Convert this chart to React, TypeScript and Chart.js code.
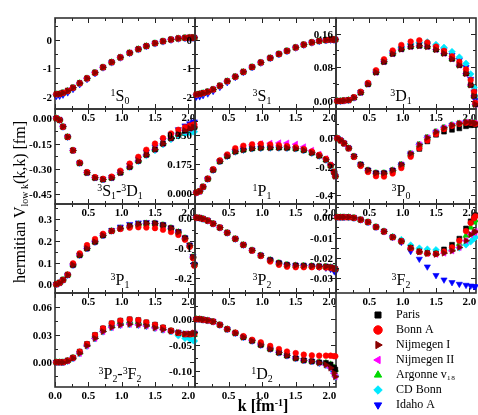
import React, { useEffect, useRef, useState } from "react";
import { Chart, registerables } from "chart.js";

Chart.register(...registerables);

// ---------- data ----------
const K = [0.02, 0.07, 0.12, 0.19, 0.27, 0.37, 0.48, 0.60, 0.72, 0.85, 0.98, 1.12, 1.25, 1.37, 1.50, 1.62, 1.74, 1.85, 1.95, 2.02, 2.07, 2.09];

const S0_COMMON = [-1.91, -1.90, -1.86, -1.79, -1.68, -1.52, -1.35, -1.15, -0.96, -0.78, -0.61, -0.45, -0.32, -0.21, -0.11, -0.04, 0.02, 0.06, 0.08, 0.09, 0.09, 0.08];
const S0_IDAHO = [-1.98, -1.97, -1.93, -1.85, -1.73, -1.56, -1.38, -1.17, -0.97, -0.79, -0.62, -0.46, -0.33, -0.22, -0.12, -0.05, 0.01, 0.05, 0.07, 0.08, 0.08, 0.07];

const S1_COMMON = [-1.92, -1.90, -1.87, -1.82, -1.74, -1.61, -1.45, -1.29, -1.12, -0.95, -0.79, -0.63, -0.49, -0.38, -0.26, -0.16, -0.08, -0.03, 0.00, 0.02, 0.02, 0.02];
const S1_IDAHO = [-2.00, -1.99, -1.95, -1.89, -1.80, -1.66, -1.49, -1.31, -1.14, -0.96, -0.80, -0.64, -0.50, -0.39, -0.27, -0.17, -0.09, -0.04, -0.01, 0.01, 0.01, 0.01];

const D1_COMMON = [0.000, 0.000, 0.001, 0.002, 0.008, 0.020, 0.040, 0.068, 0.093, 0.112, 0.123, 0.129, 0.131, 0.129, 0.122, 0.113, 0.100, 0.085, 0.065, 0.038, 0.012, -0.008];
const D1_BONNA = [0.000, 0.000, 0.001, 0.002, 0.009, 0.022, 0.043, 0.073, 0.099, 0.120, 0.133, 0.141, 0.144, 0.139, 0.129, 0.119, 0.106, 0.093, 0.075, 0.050, 0.022, -0.004];
const D1_CDBONN = [0.000, 0.000, 0.001, 0.002, 0.008, 0.021, 0.041, 0.070, 0.095, 0.115, 0.127, 0.135, 0.139, 0.140, 0.134, 0.127, 0.117, 0.104, 0.089, 0.064, 0.032, 0.012];
const D1_IDAHO = [0.000, 0.000, 0.001, 0.002, 0.008, 0.021, 0.041, 0.070, 0.095, 0.115, 0.126, 0.132, 0.135, 0.133, 0.127, 0.120, 0.109, 0.097, 0.080, 0.052, 0.022, 0.002];

const SD_COMMON = [0.000, -0.010, -0.050, -0.110, -0.190, -0.265, -0.322, -0.352, -0.362, -0.352, -0.322, -0.288, -0.252, -0.216, -0.184, -0.150, -0.118, -0.093, -0.073, -0.060, -0.054, -0.052];
const SD_BONNA = [0.000, -0.010, -0.050, -0.110, -0.190, -0.262, -0.318, -0.348, -0.358, -0.345, -0.310, -0.268, -0.228, -0.186, -0.150, -0.117, -0.090, -0.068, -0.053, -0.043, -0.038, -0.036];
const SD_CDBONN = [0.000, -0.010, -0.050, -0.110, -0.190, -0.265, -0.322, -0.352, -0.362, -0.352, -0.322, -0.290, -0.255, -0.220, -0.190, -0.155, -0.125, -0.104, -0.090, -0.083, -0.080, -0.079];
const SD_IDAHO = [0.000, -0.010, -0.050, -0.110, -0.190, -0.264, -0.320, -0.350, -0.360, -0.348, -0.316, -0.278, -0.240, -0.200, -0.168, -0.130, -0.096, -0.066, -0.044, -0.031, -0.023, -0.020];

const P1_COMMON = [0.000, 0.008, 0.035, 0.083, 0.138, 0.190, 0.222, 0.249, 0.260, 0.268, 0.272, 0.273, 0.273, 0.272, 0.268, 0.258, 0.242, 0.224, 0.200, 0.165, 0.125, 0.100];
const P1_BONNA = [0.000, 0.008, 0.036, 0.085, 0.142, 0.196, 0.232, 0.270, 0.285, 0.293, 0.296, 0.292, 0.288, 0.283, 0.276, 0.265, 0.250, 0.230, 0.205, 0.168, 0.127, 0.100];
const P1_NIJII = [0.000, 0.008, 0.035, 0.084, 0.140, 0.193, 0.228, 0.262, 0.278, 0.290, 0.297, 0.300, 0.302, 0.301, 0.294, 0.278, 0.257, 0.233, 0.206, 0.168, 0.127, 0.100];

const P0_COMMON = [0.000, -0.015, -0.035, -0.070, -0.128, -0.186, -0.226, -0.246, -0.246, -0.226, -0.186, -0.108, -0.045, 0.005, 0.045, 0.074, 0.093, 0.105, 0.114, 0.112, 0.108, 0.105];
const P0_BONNA = [0.000, -0.015, -0.036, -0.072, -0.132, -0.195, -0.238, -0.268, -0.270, -0.248, -0.210, -0.130, -0.070, -0.015, 0.030, 0.065, 0.088, 0.102, 0.110, 0.110, 0.106, 0.103];
const P0_PARIS = [0.000, -0.015, -0.035, -0.070, -0.128, -0.186, -0.226, -0.246, -0.246, -0.228, -0.190, -0.115, -0.075, -0.022, 0.025, 0.047, 0.060, 0.070, 0.085, 0.092, 0.095, 0.095];

const TP1_COMMON = [0.000, 0.007, 0.020, 0.043, 0.089, 0.134, 0.165, 0.195, 0.225, 0.245, 0.257, 0.268, 0.276, 0.280, 0.280, 0.272, 0.258, 0.240, 0.212, 0.178, 0.125, 0.090];
const TP1_BONNA = [0.000, 0.007, 0.020, 0.045, 0.096, 0.142, 0.180, 0.208, 0.232, 0.245, 0.254, 0.260, 0.262, 0.261, 0.258, 0.251, 0.240, 0.227, 0.205, 0.172, 0.120, 0.085];
const TP1_IDAHO = [0.000, 0.007, 0.020, 0.043, 0.089, 0.134, 0.165, 0.195, 0.225, 0.248, 0.264, 0.276, 0.283, 0.285, 0.282, 0.274, 0.260, 0.242, 0.214, 0.180, 0.128, 0.092];

const P2_COMMON = [0.000, -0.001, -0.004, -0.010, -0.020, -0.033, -0.050, -0.070, -0.090, -0.108, -0.125, -0.140, -0.150, -0.156, -0.158, -0.159, -0.160, -0.161, -0.162, -0.164, -0.167, -0.170];
const P2_BONNA = [0.000, -0.001, -0.004, -0.010, -0.020, -0.033, -0.050, -0.070, -0.090, -0.109, -0.127, -0.145, -0.156, -0.162, -0.164, -0.164, -0.164, -0.164, -0.165, -0.166, -0.168, -0.170];
const P2_IDAHO = [0.000, -0.001, -0.004, -0.010, -0.020, -0.033, -0.050, -0.070, -0.090, -0.108, -0.125, -0.140, -0.150, -0.156, -0.158, -0.159, -0.161, -0.163, -0.166, -0.170, -0.176, -0.180];

const F2_PARIS = [0, 0, 0, 0, -0.0003, -0.0012, -0.0024, -0.0048, -0.0070, -0.0098, -0.0118, -0.0150, -0.0168, -0.0176, -0.0178, -0.0158, -0.0135, -0.0105, -0.0055, -0.0020, 0.0000, 0.0010];
const F2_BONNA = [0, 0, 0, 0, -0.0003, -0.0012, -0.0024, -0.0048, -0.0070, -0.0098, -0.0118, -0.0152, -0.0170, -0.0178, -0.0180, -0.0168, -0.0148, -0.0115, -0.0068, -0.0028, -0.0005, 0.0005];
const F2_NIJ = [0, 0, 0, 0, -0.0003, -0.0012, -0.0024, -0.0048, -0.0070, -0.0098, -0.0118, -0.0152, -0.0170, -0.0178, -0.0182, -0.0176, -0.0165, -0.0148, -0.0115, -0.0085, -0.0075, -0.0070];
const F2_ARGONNE = [0, 0, 0, 0, -0.0003, -0.0012, -0.0024, -0.0048, -0.0070, -0.0098, -0.0118, -0.0150, -0.0168, -0.0176, -0.0178, -0.0170, -0.0158, -0.0130, -0.0090, -0.0050, -0.0025, -0.0015];
const F2_CDBONN = [0, 0, 0, 0, -0.0003, -0.0012, -0.0024, -0.0047, -0.0068, -0.0095, -0.0110, -0.0137, -0.0152, -0.0157, -0.0160, -0.0162, -0.0160, -0.0150, -0.0135, -0.0120, -0.0105, -0.0098];
const F2_IDAHO = [0, 0, 0, 0, -0.0003, -0.0012, -0.0024, -0.0048, -0.0070, -0.0098, -0.0122, -0.0167, -0.0205, -0.0243, -0.0285, -0.0307, -0.0320, -0.0328, -0.0333, -0.0337, -0.0339, -0.0340];

const PF_HIGH = [0, 0, 0, 0.0018, 0.0050, 0.0116, 0.0200, 0.0298, 0.0370, 0.0425, 0.0454, 0.0469, 0.0460, 0.0436, 0.0410, 0.0380, 0.0345, 0.0320, 0.0305, 0.0305, 0.0310, 0.0310];
const PF_ARGONNE = [0, 0, 0, 0.0017, 0.0048, 0.0107, 0.0190, 0.0280, 0.0352, 0.0400, 0.0435, 0.0445, 0.0438, 0.0418, 0.0395, 0.0370, 0.0343, 0.0320, 0.0305, 0.0300, 0.0300, 0.0300];
const PF_COMMON = [0, 0, 0, 0.0016, 0.0045, 0.0098, 0.0180, 0.0260, 0.0335, 0.0380, 0.0407, 0.0415, 0.0408, 0.0396, 0.0375, 0.0356, 0.0340, 0.0325, 0.0310, 0.0310, 0.0315, 0.0320];
const PF_CDBONN = [0, 0, 0, 0.0016, 0.0045, 0.0098, 0.0180, 0.0260, 0.0335, 0.0380, 0.0407, 0.0415, 0.0408, 0.0396, 0.0375, 0.0356, 0.0335, 0.0290, 0.0262, 0.0255, 0.0240, 0.0232];

const D2_COMMON = [0, 0, -0.0010, -0.0025, -0.0047, -0.0110, -0.0195, -0.0270, -0.0350, -0.0420, -0.0500, -0.0578, -0.0650, -0.0708, -0.0760, -0.0800, -0.0820, -0.0850, -0.0890, -0.0950, -0.1050, -0.1120];
const D2_BONNA = [0, 0, -0.0010, -0.0025, -0.0047, -0.0110, -0.0192, -0.0260, -0.0330, -0.0400, -0.0450, -0.0520, -0.0580, -0.0630, -0.0660, -0.0690, -0.0705, -0.0710, -0.0710, -0.0710, -0.0720, -0.0720];
const D2_MID = [0, 0, -0.0010, -0.0025, -0.0047, -0.0110, -0.0195, -0.0270, -0.0350, -0.0420, -0.0500, -0.0578, -0.0650, -0.0708, -0.0760, -0.0800, -0.0820, -0.0840, -0.0850, -0.0880, -0.0940, -0.0980];

// tick values
const X_TICKS = [0, 0.25, 0.5, 0.75, 1.0, 1.25, 1.5, 1.75, 2.0];
const X_LABELS = [0.5, 1.0, 1.5, 2.0];
const X_MAX = 2.1;

const Y_LABELS_1S0 = [-2, -1, 0];
const Y_LABELS_3S1 = [-2, -1, 0];
const Y_LABELS_3D1 = [0, 0.08, 0.16];
const Y_LABELS_SD = [-0.45, -0.3, -0.15, 0];
const Y_LABELS_1P1 = [0, 0.175, 0.35];
const Y_LABELS_3P0 = [-0.4, -0.2, 0];
const Y_LABELS_3P1 = [0, 0.1, 0.2, 0.3];
const Y_LABELS_3P2 = [-0.2, -0.1, 0];
const Y_LABELS_3F2 = [-0.03, -0.02, -0.01, 0];
const Y_LABELS_PF = [0, 0.03, 0.06];
const Y_LABELS_1D2 = [-0.1, -0.05, 0];

// series: Paris, Bonn A, Nijmegen I, Nijmegen II, Argonne v18, CD Bonn, Idaho A
const SERIES_NAMES = ["Paris", "Bonn A", "Nijmegen I", "Nijmegen II", "Argonne v\u2081\u2088", "CD Bonn", "Idaho A"];
const SERIES_COLORS = ["#000000", "#ff0000", "#8b0000", "#ff00ff", "#00d800", "#00e8ff", "#0000ff"];
const SERIES_STYLES = ["rect", "circle", "triangle", "triangle", "triangle", "rectRot", "triangle"];
const SERIES_ROT = [0, 0, 90, -90, 0, 0, 180];
const SERIES_ORDER = [2, 1, 0, 3, 4, 5, 6];
const SERIES_RADIUS = [3.4, 2.8, 3.6, 3.6, 3.6, 3.4, 3.6];

// ---------- layout ----------
const COL_X = [55, 195, 336, 476];
const ROW_Y = [18, 109, 204, 293, 387];
const LABEL_X = [120, 262, 401];
const AX_L = 46;
const AX_B = 16;
const PAD_T = 8;
const PAD_R = 8;
const FONT = "'Liberation Serif', 'Times New Roman', serif";

const SUP: React.CSSProperties = { fontSize: "0.62em", position: "relative", top: "-0.55em", verticalAlign: "baseline" };
const SUB: React.CSSProperties = { fontSize: "0.62em", position: "relative", top: "0.3em", verticalAlign: "baseline" };

const Wave = ({ s, L, j }: { s: string; L: string; j: string }) => (
  <>
    <span style={SUP}>{s}</span>
    {L}
    <span style={SUB}>{j}</span>
  </>
);

const PANELS = [
  { key: "1S0", col: 0, row: 0, min: -2.43, max: 0.78, minor: 0.5, major: 1, dec: 0, yLabels: Y_LABELS_1S0,
    series: [S0_COMMON, S0_COMMON, S0_COMMON, S0_COMMON, S0_COMMON, S0_COMMON, S0_IDAHO],
    label: <Wave s="1" L="S" j="0" /> },
  { key: "3S1", col: 1, row: 0, min: -2.43, max: 0.78, minor: 0.5, major: 1, dec: 0, yLabels: Y_LABELS_3S1,
    series: [S1_COMMON, S1_COMMON, S1_COMMON, S1_COMMON, S1_COMMON, S1_COMMON, S1_IDAHO],
    label: <Wave s="3" L="S" j="1" /> },
  { key: "3D1", col: 2, row: 0, min: -0.019, max: 0.197, minor: 0.04, major: 0.08, dec: 2, yLabels: Y_LABELS_3D1,
    series: [D1_COMMON, D1_BONNA, D1_COMMON, D1_COMMON, D1_COMMON, D1_CDBONN, D1_IDAHO],
    label: <Wave s="3" L="D" j="1" /> },
  { key: "3S1-3D1", col: 0, row: 1, min: -0.507, max: 0.055, minor: 0.075, major: 0.15, dec: 2, yLabels: Y_LABELS_SD,
    series: [SD_COMMON, SD_BONNA, SD_COMMON, SD_COMMON, SD_COMMON, SD_CDBONN, SD_IDAHO],
    label: <><Wave s="3" L="S" j="1" />-<Wave s="3" L="D" j="1" /></> },
  { key: "1P1", col: 1, row: 1, min: -0.069, max: 0.508, minor: 0.0875, major: 0.175, dec: 3, yLabels: Y_LABELS_1P1,
    series: [P1_COMMON, P1_BONNA, P1_COMMON, P1_NIJII, P1_COMMON, P1_COMMON, P1_COMMON],
    label: <Wave s="1" L="P" j="1" /> },
  { key: "3P0", col: 2, row: 1, min: -0.464, max: 0.207, minor: 0.1, major: 0.2, dec: 1, yLabels: Y_LABELS_3P0,
    series: [P0_PARIS, P0_BONNA, P0_COMMON, P0_COMMON, P0_COMMON, P0_COMMON, P0_COMMON],
    label: <Wave s="3" L="P" j="0" /> },
  { key: "3P1", col: 0, row: 2, min: -0.04, max: 0.369, minor: 0.05, major: 0.1, dec: 1, yLabels: Y_LABELS_3P1,
    series: [TP1_COMMON, TP1_BONNA, TP1_COMMON, TP1_COMMON, TP1_COMMON, TP1_COMMON, TP1_IDAHO],
    label: <Wave s="3" L="P" j="1" /> },
  { key: "3P2", col: 1, row: 2, min: -0.249, max: 0.045, minor: 0.05, major: 0.1, dec: 1, yLabels: Y_LABELS_3P2,
    series: [P2_COMMON, P2_BONNA, P2_COMMON, P2_COMMON, P2_COMMON, P2_COMMON, P2_IDAHO],
    label: <Wave s="3" L="P" j="2" /> },
  { key: "3F2", col: 2, row: 2, min: -0.0372, max: 0.0065, minor: 0.005, major: 0.01, dec: 2, yLabels: Y_LABELS_3F2,
    series: [F2_PARIS, F2_BONNA, F2_NIJ, F2_NIJ, F2_ARGONNE, F2_CDBONN, F2_IDAHO],
    label: <Wave s="3" L="F" j="2" /> },
  { key: "3P2-3F2", col: 0, row: 3, min: -0.027, max: 0.0756, minor: 0.015, major: 0.03, dec: 2, yLabels: Y_LABELS_PF, zeroX: true,
    series: [PF_HIGH, PF_HIGH, PF_COMMON, PF_COMMON, PF_ARGONNE, PF_CDBONN, PF_COMMON],
    label: <><Wave s="3" L="P" j="2" />-<Wave s="3" L="F" j="2" /></> },
  { key: "1D2", col: 1, row: 3, min: -0.132, max: 0.051, minor: 0.025, major: 0.05, dec: 2, yLabels: Y_LABELS_1D2,
    series: [D2_MID, D2_BONNA, D2_COMMON, D2_COMMON, D2_MID, D2_COMMON, D2_COMMON],
    label: <Wave s="1" L="D" j="2" /> },
];

function isMult(v: number, step: number) {
  const r = v / step;
  return Math.abs(r - Math.round(r)) < 1e-4;
}

function geom(p: any) {
  const w = COL_X[p.col + 1] - COL_X[p.col];
  const h = ROW_Y[p.row + 1] - ROW_Y[p.row];
  return {
    left: COL_X[p.col] - AX_L,
    top: ROW_Y[p.row] - PAD_T,
    w: AX_L + w + PAD_R,
    h: PAD_T + h + AX_B,
  };
}

// frame and inward tick marks, placed through the chart's own scales
function framePlugin(p: any) {
  return {
    id: "frame_" + p.key.replace(/[^a-zA-Z0-9]/g, "_"),
    beforeDatasetsDraw(chart: any) {
      const { ctx, chartArea: a } = chart;
      const xs = chart.scales.x;
      const ys = chart.scales.y;
      ctx.save();
      ctx.strokeStyle = "#222";
      ctx.lineWidth = 1;
      ctx.beginPath();
      xs.ticks.forEach((t: any) => {
        const px = Math.round(xs.getPixelForValue(t.value)) + 0.5;
        const len = isMult(t.value, 0.5) ? 5 : 3;
        ctx.moveTo(px, a.bottom);
        ctx.lineTo(px, a.bottom - len);
        ctx.moveTo(px, a.top);
        ctx.lineTo(px, a.top + len);
      });
      ys.ticks.forEach((t: any) => {
        const py = Math.round(ys.getPixelForValue(t.value)) + 0.5;
        const len = isMult(t.value, p.major) ? 5 : 3;
        ctx.moveTo(a.left, py);
        ctx.lineTo(a.left + len, py);
        ctx.moveTo(a.right, py);
        ctx.lineTo(a.right - len, py);
      });
      ctx.stroke();
      ctx.lineWidth = 1.6;
      ctx.strokeStyle = "#333";
      ctx.strokeRect(a.left, a.top, a.right - a.left, a.bottom - a.top);
      ctx.restore();
    },
  };
}

function panelConfig(p: any): any {
  const yTicks: number[] = [];
  const edge = 0.02 * (p.max - p.min);
  for (let n = Math.ceil(p.min / p.minor - 1e-9); n * p.minor <= p.max + 1e-9; n++) {
    const v = Number((n * p.minor).toFixed(6));
    if (v > p.min + edge && v < p.max - edge) yTicks.push(v);
  }
  const tickFont = { family: FONT, size: 11, weight: "bold" as const };
  return {
    type: "scatter",
    data: {
      datasets: SERIES_NAMES.map((name, i) => ({
        label: name,
        data: K.map((k, j) => ({ x: k, y: p.series[i][j] })),
        backgroundColor: SERIES_COLORS[i],
        borderColor: SERIES_COLORS[i],
        borderWidth: 0.6,
        pointStyle: SERIES_STYLES[i],
        pointRotation: SERIES_ROT[i],
        pointRadius: SERIES_RADIUS[i],
        pointHoverRadius: SERIES_RADIUS[i],
        order: SERIES_ORDER[i],
        clip: false,
        showLine: false,
      })),
    },
    options: {
      responsive: false,
      animation: false,
      devicePixelRatio: 1,
      events: [],
      layout: { padding: { left: 0, top: PAD_T, right: PAD_R, bottom: 0 } },
      plugins: { legend: { display: false }, tooltip: { enabled: false } },
      scales: {
        x: {
          type: "linear",
          position: "bottom",
          min: 0,
          max: X_MAX,
          afterBuildTicks: (s: any) => {
            s.ticks = X_TICKS.map((v) => ({ value: v }));
          },
          afterFit: (s: any) => {
            s.height = AX_B;
            s.paddingLeft = 0;
            s.paddingRight = 0;
          },
          grid: { display: false, drawTicks: false },
          border: { display: false },
          ticks: {
            autoSkip: false,
            maxRotation: 0,
            minRotation: 0,
            padding: 3,
            color: "#000",
            font: tickFont,
            callback: (v: number) => {
              if (Math.abs(v) < 1e-9) return p.zeroX ? "0.0" : "";
              return X_LABELS.some((l) => Math.abs(l - v) < 1e-6) ? v.toFixed(1) : "";
            },
          },
        },
        y: {
          type: "linear",
          position: "left",
          min: p.min,
          max: p.max,
          afterBuildTicks: (s: any) => {
            s.ticks = yTicks.map((v) => ({ value: v }));
          },
          afterFit: (s: any) => {
            s.width = AX_L;
            s.paddingTop = 0;
            s.paddingBottom = 0;
          },
          grid: { display: false, drawTicks: false },
          border: { display: false },
          ticks: {
            autoSkip: false,
            padding: 3,
            color: "#000",
            font: tickFont,
            callback: () => "",
          },
        },
      },
    },
    plugins: [framePlugin(p)],
  };
}

function legendConfig(): any {
  return {
    type: "scatter",
    data: {
      datasets: SERIES_NAMES.map((name, i) => ({
        label: name,
        data: [],
        backgroundColor: SERIES_COLORS[i],
        borderColor: SERIES_COLORS[i],
        pointStyle: SERIES_STYLES[i],
        pointRotation: SERIES_ROT[i],
      })),
    },
    options: {
      responsive: false,
      animation: false,
      devicePixelRatio: 1,
      events: [],
      layout: { padding: { left: 33, top: 0, right: 0, bottom: 0 } },
      scales: { x: { display: false }, y: { display: false } },
      plugins: {
        tooltip: { enabled: false },
        legend: {
          display: true,
          position: "chartArea",
          align: "start",
          labels: {
            usePointStyle: true,
            boxWidth: 12,
            boxHeight: 6,
            padding: 3,
            color: "#000",
            font: { family: FONT, size: 12, lineHeight: 1 },
            generateLabels: () =>
              SERIES_NAMES.map((name, i) => ({
                text: "  " + name,
                fillStyle: SERIES_COLORS[i],
                strokeStyle: SERIES_COLORS[i],
                fontColor: "#000",
                lineWidth: 1,
                pointStyle: SERIES_STYLES[i],
                rotation: SERIES_ROT[i],
                hidden: false,
                datasetIndex: i,
              })),
          },
        },
      },
    },
  };
}

interface YLab { key: string; text: string; x: number; y: number }

export default function App() {
  const refs = useRef<(HTMLCanvasElement | null)[]>([]);
  const legendRef = useRef<HTMLCanvasElement | null>(null);
  const [yLabs, setYLabs] = useState<YLab[]>([]);

  useEffect(() => {
    const charts: Chart[] = [];
    const labs: YLab[] = [];
    PANELS.forEach((p, i) => {
      const c = refs.current[i];
      if (!c) return;
      const ch = new Chart(c, panelConfig(p));
      charts.push(ch);
      const g = geom(p);
      const ys: any = ch.scales.y;
      const a = ch.chartArea;
      p.yLabels.forEach((v) => {
        labs.push({
          key: p.key + "_" + v,
          text: (Math.abs(v) < 1e-12 ? 0 : v).toFixed(p.dec),
          x: g.left + a.left - 3,
          y: g.top + ys.getPixelForValue(v),
        });
      });
    });
    if (legendRef.current) charts.push(new Chart(legendRef.current, legendConfig()));
    setYLabs(labs);
    return () => charts.forEach((ch) => ch.destroy());
  }, []);

  return (
    <div style={{ position: "absolute", left: 0, top: 0, width: 478, height: 415, background: "#fff", overflow: "hidden" }}>
      {PANELS.map((p, i) => {
        const g = geom(p);
        return (
          <canvas
            key={p.key}
            ref={(el) => {
              refs.current[i] = el;
            }}
            width={g.w}
            height={g.h}
            style={{ position: "absolute", left: g.left, top: g.top, width: g.w, height: g.h, zIndex: 1 + i }}
          />
        );
      })}
      <canvas ref={legendRef} width={142} height={110} style={{ position: "absolute", left: 336, top: 306, width: 142, height: 110, zIndex: 20 }} />
      {yLabs.map((l) => (
        <div
          key={l.key}
          style={{
            position: "absolute",
            left: l.x,
            top: l.y,
            transform: "translate(-100%, -50%)",
            font: `bold 11px ${FONT}`,
            whiteSpace: "nowrap",
            lineHeight: 1,
            color: "#000",
            zIndex: 25,
          }}
        >
          {l.text}
        </div>
      ))}
      {PANELS.map((p) => (
        <div
          key={"lab" + p.key}
          style={{
            position: "absolute",
            left: LABEL_X[p.col],
            top: ROW_Y[p.row + 1] - 13,
            transform: "translate(-50%, -50%)",
            font: `16px ${FONT}`,
            whiteSpace: "nowrap",
            lineHeight: 1,
            color: "#000",
            zIndex: 30,
          }}
        >
          {p.label}
        </div>
      ))}
      <div
        style={{
          position: "absolute",
          left: 20,
          top: 202,
          transform: "translate(-50%, -50%) rotate(-90deg)",
          font: `16px ${FONT}`,
          whiteSpace: "nowrap",
          lineHeight: 1,
          color: "#000",
          zIndex: 30,
        }}
      >
        hermitian V<span style={SUB}>low k</span>(k,k) [fm]
      </div>
      <div
        style={{
          position: "absolute",
          left: 263,
          top: 406,
          transform: "translate(-50%, -50%)",
          font: `bold 16px ${FONT}`,
          whiteSpace: "nowrap",
          lineHeight: 1,
          color: "#000",
          zIndex: 30,
        }}
      >
        k [fm<span style={SUP}>-1</span>]
      </div>
    </div>
  );
}
